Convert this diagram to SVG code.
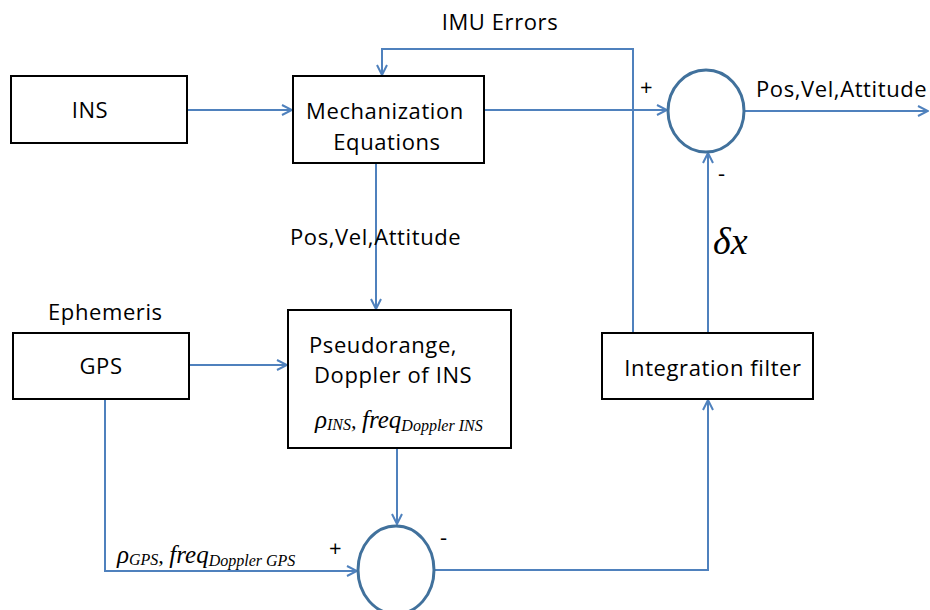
<svg xmlns="http://www.w3.org/2000/svg" width="930" height="610" viewBox="0 0 930 610">
<defs>
<style>
.box{fill:#fff;stroke:#000;stroke-width:2}
.sum{fill:#fff;stroke:#41719C;stroke-width:3}
.ln{fill:none;stroke:#4F81BD;stroke-width:2}
.t{font-family:"Open Sans","Liberation Sans",sans-serif;font-size:22px;letter-spacing:0.6px;fill:#000}
.m{font-family:"Liberation Serif","Times New Roman",serif;font-style:italic;fill:#000}
</style>
<marker id="ah" viewBox="0 0 12 12" refX="11" refY="6" markerWidth="12" markerHeight="12" markerUnits="userSpaceOnUse" orient="auto">
<path d="M1,1 L11,6 L1,11" fill="none" stroke="#4F81BD" stroke-width="2"/>
</marker>
</defs>
<rect width="930" height="610" fill="#fff"/>
<g id="connectors">
<path class="ln" d="M187,110 L292,110" marker-end="url(#ah)"/>
<path class="ln" d="M484,110 L667,110" marker-end="url(#ah)"/>
<path class="ln" d="M745,111 L928,111" marker-end="url(#ah)"/>
<path class="ln" d="M633,333 L633,49 L382,49 L382,75" marker-end="url(#ah)"/>
<path class="ln" d="M708,333 L708,153" marker-end="url(#ah)"/>
<path class="ln" d="M376,163 L376,309" marker-end="url(#ah)"/>
<path class="ln" d="M189,365 L287,365" marker-end="url(#ah)"/>
<path class="ln" d="M397,448 L397,524" marker-end="url(#ah)"/>
<path class="ln" d="M105,399 L105,571 L357,571" marker-end="url(#ah)"/>
<path class="ln" d="M434,570 L708,570 L708,400" marker-end="url(#ah)"/>
</g>
<g id="ins"><rect class="box" x="11" y="76" width="176" height="67"/><text class="t" x="90" y="118" text-anchor="middle">INS</text></g>
<g id="mech"><rect class="box" x="293" y="76" width="191" height="87"/><text class="t" x="385" y="119" text-anchor="middle">Mechanization</text><text class="t" x="387" y="150" text-anchor="middle">Equations</text></g>
<g id="sum1"><ellipse class="sum" cx="706" cy="111" rx="38" ry="41"/></g>
<g id="gps"><rect class="box" x="13" y="333" width="176" height="66"/><text class="t" x="101" y="374" text-anchor="middle">GPS</text></g>
<g id="pseudo"><rect class="box" x="288" y="310" width="223" height="138"/><text class="t" x="309" y="353">Pseudorange,</text><text class="t" x="314" y="383">Doppler of INS</text>
<text class="m" x="315" y="428"><tspan font-size="25">ρ</tspan><tspan font-size="16" dy="2">INS</tspan><tspan font-size="22" dy="-2">, </tspan><tspan font-size="25">freq</tspan><tspan font-size="16" dy="3">Doppler INS</tspan></text></g>
<g id="filter"><rect class="box" x="602" y="333" width="211" height="66"/><text class="t" x="713" y="376" text-anchor="middle">Integration filter</text></g>
<g id="sum2"><ellipse class="sum" cx="396" cy="570" rx="38" ry="44"/></g>
<g id="labels">
<text class="t" x="500" y="30" text-anchor="middle">IMU Errors</text>
<text class="t" x="756" y="97">Pos,Vel,Attitude</text>
<text class="t" x="290" y="245">Pos,Vel,Attitude</text>
<text class="t" x="48" y="320">Ephemeris</text>
<text class="t" x="640" y="95">+</text>
<text class="t" x="718" y="181">-</text>
<text class="t" x="329" y="556">+</text>
<text class="t" x="440" y="545">-</text>
<text class="m" x="713" y="254" font-size="38">δx</text>
<text class="m" x="117" y="563"><tspan font-size="25">ρ</tspan><tspan font-size="16" dy="2">GPS</tspan><tspan font-size="22" dy="-2">, </tspan><tspan font-size="25">freq</tspan><tspan font-size="16" dy="3">Doppler GPS</tspan></text>
</g>
</svg>
